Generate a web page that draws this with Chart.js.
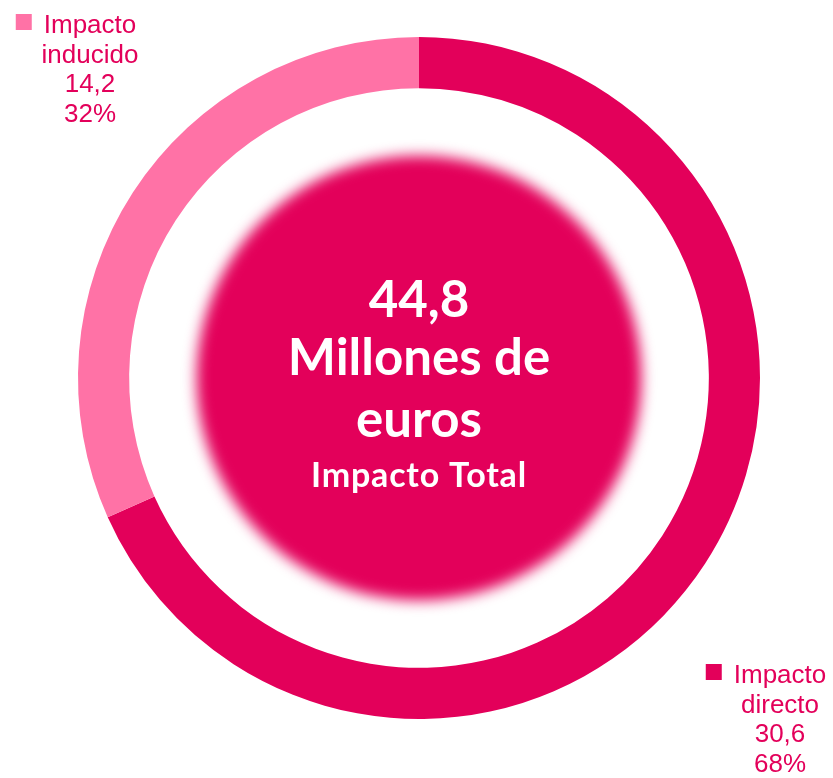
<!DOCTYPE html>
<html>
<head>
<meta charset="utf-8">
<script src="https://cdn.jsdelivr.net/npm/chart.js@4"></script>
<style>
  html, body { margin: 0; padding: 0; background: #ffffff; }
  #wrap { width: 833px; height: 778px; position: relative; }
</style>
</head>
<body>
<div id="wrap"><canvas id="impacto-chart"></canvas></div>
<script>
// Chart data
var categorias = ['Impacto directo', 'Impacto inducido'];
var valores = [30.6, 14.2];                 // millones de euros
var porcentajes = ['68%', '32%'];
var etiquetas = [['Impacto', 'directo'], ['Impacto', 'inducido']];
var colores = ['#E3005A', '#FF72A6'];
var totalTexto = ['44,8', 'Millones de', 'euros'];
var subtitulo = 'Impacto Total';

var textoColor = '#E3005A';

// Soft filled disc in the middle of the ring, plus the headline text
var centroPlugin = {
    id: 'centro',
    beforeDatasetsDraw: function(chart) {
        var arc = chart.getDatasetMeta(0).data[0];
        var ctx = chart.ctx;
        ctx.save();
        ctx.filter = 'blur(7px)';
        ctx.fillStyle = colores[0];
        ctx.beginPath();
        ctx.arc(arc.x, arc.y, arc.outerRadius * 0.652, 0, Math.PI * 2);
        ctx.fill();
        ctx.restore();
    },
    afterDraw: function(chart) {
        var arc = chart.getDatasetMeta(0).data[0];
        var ctx = chart.ctx;
        ctx.save();
        ctx.fillStyle = '#ffffff';
        ctx.textAlign = 'center';
        ctx.textBaseline = 'alphabetic';
        ctx.font = 'bold 51px Lato';
        ctx.letterSpacing = '0px';
        ctx.fillText(totalTexto[0], arc.x, arc.y - 61);
        ctx.fillText(totalTexto[1], arc.x, arc.y - 3);
        ctx.fillText(totalTexto[2], arc.x, arc.y + 59);
        ctx.font = 'bold 34px Lato';
        ctx.letterSpacing = '0.8px';
        ctx.fillText(subtitulo, arc.x, arc.y + 109);
        ctx.restore();
    }
};

// Corner labels: colour square, name, value and share
var etiquetasPlugin = {
    id: 'etiquetas',
    afterDraw: function(chart) {
        var ctx = chart.ctx;
        var w = chart.width, h = chart.height;
        // anchor for each category: centre x of the text block, first baseline
        var anclas = [
            { x: w - 53, y: h - 95 },
            { x: 90, y: 33 }
        ];
        ctx.save();
        ctx.font = '26px "Liberation Sans", Arial, sans-serif';
        ctx.textAlign = 'center';
        ctx.textBaseline = 'alphabetic';
        for (var i = 0; i < categorias.length; i++) {
            var a = anclas[i];
            var lineas = etiquetas[i].concat([valores[i].toFixed(1).replace('.', ','), porcentajes[i]]);
            var ancho = ctx.measureText(lineas[0]).width;
            ctx.fillStyle = colores[i];
            ctx.fillRect(a.x - ancho / 2 - 28, a.y - 19, 16, 16);
            ctx.fillStyle = textoColor;
            for (var j = 0; j < lineas.length; j++) {
                ctx.fillText(lineas[j], a.x, a.y + j * 29.7);
            }
        }
        ctx.restore();
    }
};

var ctx = document.getElementById('impacto-chart').getContext('2d');

var impactoChart = new Chart(ctx, {
    type: 'doughnut',
    data: {
        labels: categorias,
        datasets: [{
            data: valores,
            backgroundColor: colores,
            borderWidth: 0,
            hoverOffset: 0
        }]
    },
    options: {
        responsive: true,
        maintainAspectRatio: false,
        animation: false,
        cutout: '85%',
        rotation: 0,
        layout: {
            padding: { top: 37, bottom: 59, left: 78, right: 73 }
        },
        plugins: {
            legend: { display: false },
            tooltip: { enabled: false }
        }
    },
    plugins: [centroPlugin, etiquetasPlugin]
});
</script>
</body>
</html>
